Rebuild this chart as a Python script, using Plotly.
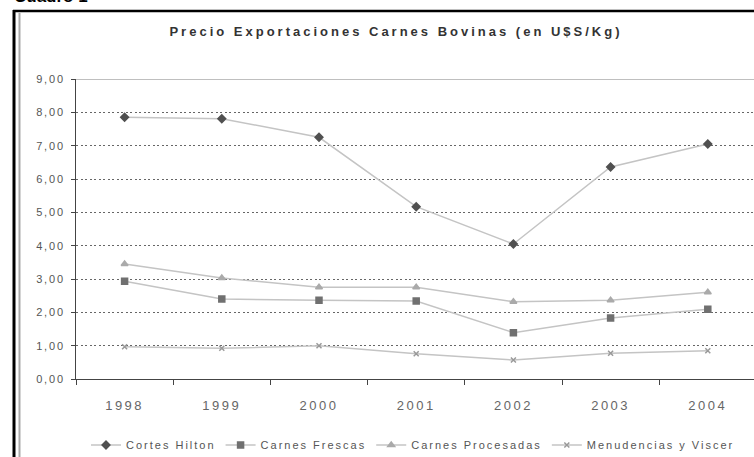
import plotly.graph_objects as go

years = ["1998", "1999", "2000", "2001", "2002", "2003", "2004"]
cortes_hilton = [7.85, 7.81, 7.25, 5.17, 4.05, 6.36, 7.05]
carnes_frescas = [2.93, 2.40, 2.36, 2.34, 1.39, 1.83, 2.09]
carnes_procesadas = [3.45, 3.03, 2.75, 2.75, 2.32, 2.36, 2.60]
menudencias = [0.97, 0.92, 1.00, 0.76, 0.57, 0.77, 0.85]
y_ticks = [0, 1, 2, 3, 4, 5, 6, 7, 8, 9]
y_tick_labels = ["0,00", "1,00", "2,00", "3,00", "4,00", "5,00",
                 "6,00", "7,00", "8,00", "9,00"]
series_names = ["Cortes Hilton", "Carnes Frescas", "Carnes Procesadas",
                "Menudencias y Viscer"]
title_text = "Precio Exportaciones Carnes Bovinas (en U$S/Kg)"
caption_text = "Cuadro 1"

W, H = 754, 457
L, T, B = 76, 79, 379
PW = W - L
PH = B - T


def px_x(p):
    return (p - L) / PW


def px_y(p):
    return (B - p) / PH


def spaced(s, ls):
    return '<span style="letter-spacing:%spx">%s</span>' % (ls, s)


fig = go.Figure()
styles = [
    ("diamond", 6, "#505050"),
    ("square", 6, "#707070"),
    ("triangle-up", 6, "#aaaaaa"),
    ("x-thin", 5, "#999999"),
]
for name, vals, (sym, size, mc) in zip(
        series_names,
        [cortes_hilton, carnes_frescas, carnes_procesadas, menudencias],
        styles):
    fig.add_trace(go.Scatter(
        x=years, y=vals, name=spaced(name, 2), mode="lines+markers",
        line=dict(color="#c4c4c4", width=1.5),
        marker=dict(symbol=sym, size=size, color=mc,
                    line=dict(color=mc, width=1.5)),
    ))

fig.update_layout(
    width=W, height=H,
    margin=dict(l=L, r=0, t=T, b=H - B, autoexpand=False),
    paper_bgcolor="white", plot_bgcolor="white",
    font=dict(family="Liberation Sans", color="#555555"),
    title=dict(
        text="<b>" + spaced(title_text, 3) + "</b>",
        x=396 / W, xanchor="center",
        y=1 - 31 / H, yanchor="middle",
        font=dict(family="Liberation Sans", size=13, color="#333333"),
    ),
    xaxis=dict(
        type="category", range=[-0.5, -0.5 + PW / 97.2],
        tickvals=years, ticktext=[spaced(y, 2.5) for y in years],
        tickson="boundaries", ticks="outside", ticklen=5, tickcolor="#444",
        showline=True, linecolor="#444", linewidth=1,
        showgrid=False, automargin=False,
        tickfont=dict(family="Liberation Sans", size=13, color="#666666"),
        ticklabelstandoff=14,
    ),
    yaxis=dict(
        range=[0, 9], tickvals=y_ticks,
        ticktext=[spaced(t, 1.8) for t in y_tick_labels],
        ticks="outside", ticklen=4, tickcolor="#444",
        showline=True, linecolor="#444", linewidth=1,
        showgrid=True, gridcolor="#666666", gridwidth=1,
        griddash="2px,2.5px", automargin=False,
        tickfont=dict(family="Liberation Sans", size=11, color="#555555"),
        ticklabelstandoff=4, zeroline=False,
    ),
    legend=dict(
        orientation="h", x=px_x(86), xanchor="left",
        y=px_y(445), yanchor="middle",
        font=dict(family="Liberation Sans", size=11, color="#555555"),
        itemwidth=30, tracegroupgap=0,
    ),
    showlegend=True,
)

# top border of plot area at 9,00
fig.add_shape(type="line", xref="paper", yref="y", x0=0, x1=1, y0=9, y1=9,
              line=dict(color="#aaaaaa", width=1.5), layer="above")

# outer frame
fig.add_shape(type="line", xref="paper", yref="paper",
              x0=px_x(14), x1=px_x(14), y0=px_y(10), y1=px_y(H + 5),
              line=dict(color="#000000", width=3))
fig.add_shape(type="line", xref="paper", yref="paper",
              x0=px_x(13), x1=px_x(W + 5), y0=px_y(11), y1=px_y(11),
              line=dict(color="#000000", width=2.5))
fig.add_shape(type="line", xref="paper", yref="paper",
              x0=px_x(19.5), x1=px_x(19.5), y0=px_y(13), y1=px_y(H + 5),
              line=dict(color="#aaaaaa", width=2))

# caption cut off at top
fig.add_annotation(text="<b>" + caption_text + "</b>", xref="paper", yref="paper",
                   x=px_x(12), y=px_y(8), xanchor="left", yanchor="bottom",
                   showarrow=False,
                   font=dict(family="Liberation Sans", size=17, color="#000000"))

fig.write_html("out.html", config={"displayModeBar": False},
               post_script="document.body.style.margin='0';"
                           "document.body.style.overflow='hidden';")
